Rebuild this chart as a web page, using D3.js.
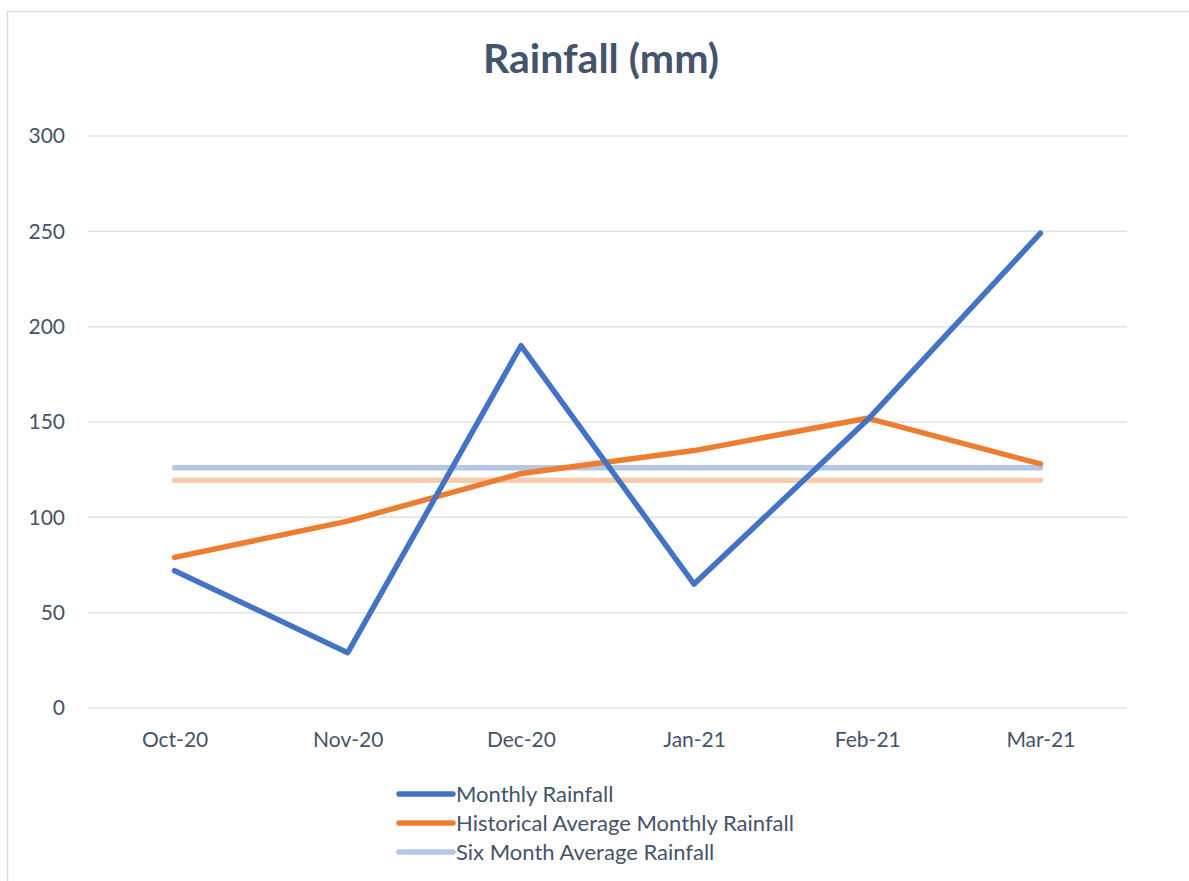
<!DOCTYPE html>
<html>
<head>
<meta charset="utf-8">
<script src="https://cdn.jsdelivr.net/npm/d3@7"></script>
<style>
  html, body { margin: 0; padding: 0; background: #fff; }
  svg { display: block; }
</style>
</head>
<body>
<svg id="chart" width="1189" height="881"></svg>
<script>
// Monthly rainfall data (mm)
const months = ["Oct-20", "Nov-20", "Dec-20", "Jan-21", "Feb-21", "Mar-21"];
const monthlyRainfall = [72, 29, 190, 65, 151, 249];
const historicalAverage = [79, 98, 123, 135, 152, 128];
const sixMonthAverage = [126, 126, 126, 126, 126, 126];
const historicalSixMonthAverage = [119.5, 119.5, 119.5, 119.5, 119.5, 119.5];
const yTicks = [0, 50, 100, 150, 200, 250, 300];

const seriesNames = ["Monthly Rainfall", "Historical Average Monthly Rainfall", "Six Month Average Rainfall"];

const textColor = "#44546a";
const font = "Lato, 'Open Sans', sans-serif";

const svg = d3.select("#chart");

// Chart frame
svg.append("rect")
  .attr("x", 7.5).attr("y", 11.5)
  .attr("width", 1200).attr("height", 900)
  .attr("fill", "#fff").attr("stroke", "#d9dde3").attr("stroke-width", 1.5);

// Title
svg.append("text")
  .attr("x", 601).attr("y", 73)
  .attr("text-anchor", "middle")
  .attr("font-family", font)
  .attr("font-weight", "bold")
  .attr("font-size", 41)
  .attr("fill", textColor)
  .text("Rainfall (mm)");

const plot = { left: 88, right: 1127, top: 136, bottom: 708 };

const x = d3.scalePoint()
  .domain(months)
  .range([plot.left, plot.right])
  .padding(0.5);

const y = d3.scaleLinear()
  .domain([0, 300])
  .range([plot.bottom, plot.top]);

// Horizontal gridlines
svg.append("g")
  .selectAll("line")
  .data(yTicks)
  .join("line")
  .attr("x1", plot.left).attr("x2", plot.right)
  .attr("y1", d => y(d)).attr("y2", d => y(d))
  .attr("stroke", "#dfe2e7").attr("stroke-width", 1.5);

// Y axis labels
const yAxis = svg.append("g")
  .attr("transform", `translate(${plot.left - 23},0)`)
  .call(d3.axisLeft(y).tickValues(yTicks).tickSize(0).tickPadding(0));
yAxis.select(".domain").remove();
yAxis.selectAll("text")
  .attr("font-family", font)
  .attr("font-size", 21)
  .attr("fill", textColor);

// X axis labels
const xAxis = svg.append("g")
  .attr("transform", `translate(0,${plot.bottom + 24})`)
  .call(d3.axisBottom(x).tickSize(0).tickPadding(0));
xAxis.select(".domain").remove();
xAxis.selectAll("text")
  .attr("font-family", font)
  .attr("font-size", 21)
  .attr("fill", textColor);

const line = d3.line()
  .x((d, i) => x(months[i]))
  .y(d => y(d));

function drawSeries(values, color) {
  svg.append("path")
    .datum(values)
    .attr("d", line)
    .attr("fill", "none")
    .attr("stroke", color)
    .attr("stroke-width", 5.5)
    .attr("stroke-linecap", "round")
    .attr("stroke-linejoin", "round");
}

drawSeries(historicalSixMonthAverage, "#f8cbad");
drawSeries(sixMonthAverage, "#b4c7e7");
drawSeries(historicalAverage, "#ed7d31");
drawSeries(monthlyRainfall, "#4472c4");

// Legend
const legendColors = ["#4472c4", "#ed7d31", "#b4c7e7"];
const legend = svg.append("g");
seriesNames.forEach((name, i) => {
  const ly = 794 + i * 29;
  legend.append("line")
    .attr("x1", 399).attr("x2", 453)
    .attr("y1", ly).attr("y2", ly)
    .attr("stroke", legendColors[i])
    .attr("stroke-width", 5.5)
    .attr("stroke-linecap", "round");
  legend.append("text")
    .attr("x", 456).attr("y", ly)
    .attr("dy", "0.35em")
    .attr("font-family", font)
    .attr("font-size", 22)
    .attr("fill", textColor)
    .text(name);
});
</script>
</body>
</html>
